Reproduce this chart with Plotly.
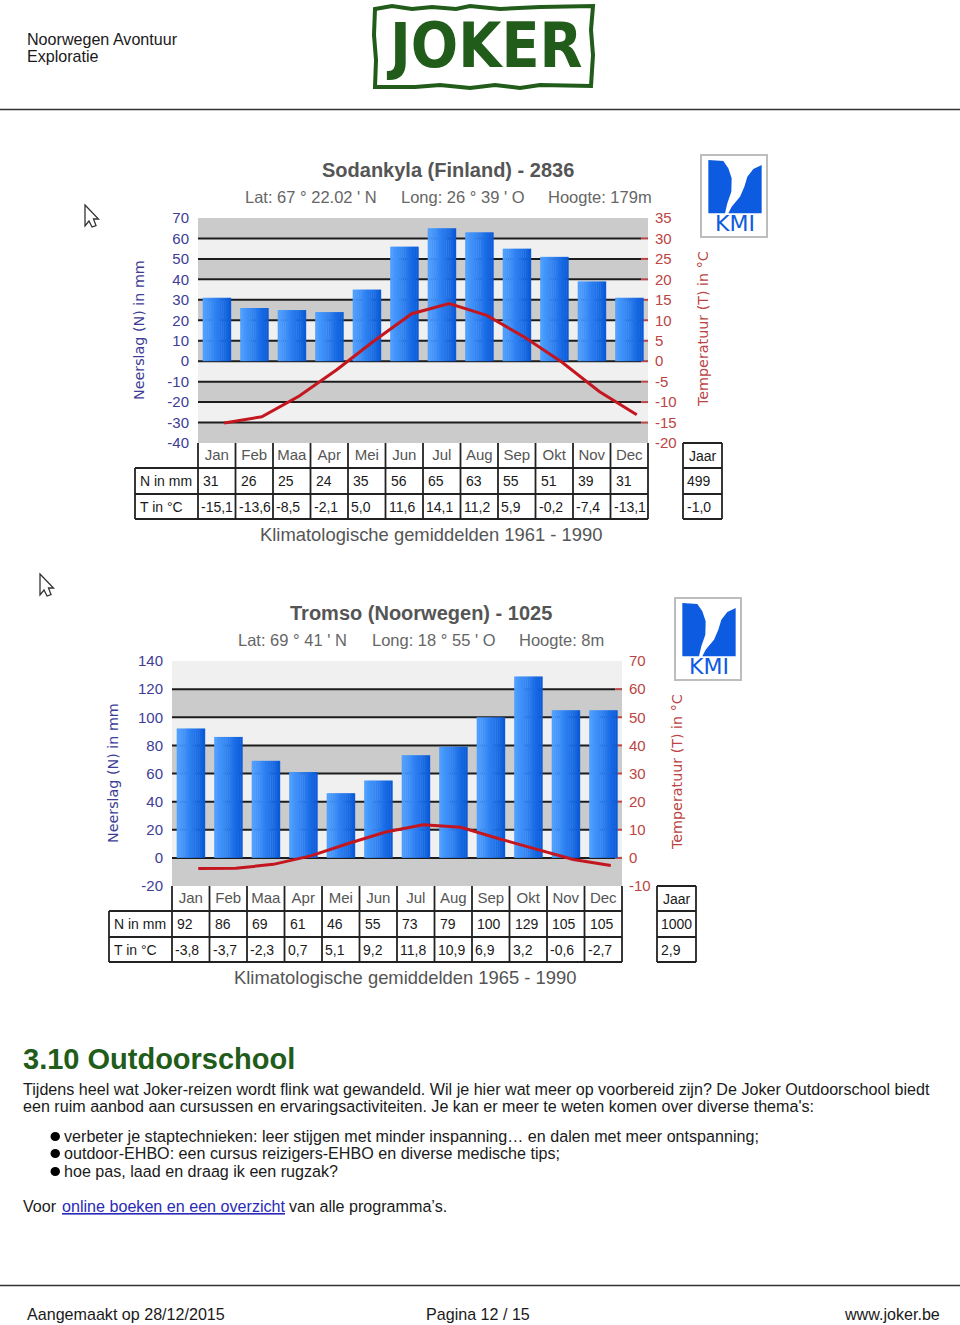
import plotly.graph_objects as go

W, H = 960, 1325

# ---------- data ----------
MONTHS = ["Jan", "Feb", "Maa", "Apr", "Mei", "Jun", "Jul", "Aug", "Sep", "Okt", "Nov", "Dec"]

SOD_N = [31, 26, 25, 24, 35, 56, 65, 63, 55, 51, 39, 31]
SOD_T = [-15.1, -13.6, -8.5, -2.1, 5.0, 11.6, 14.1, 11.2, 5.9, -0.2, -7.4, -13.1]
SOD_N_TXT = ["31", "26", "25", "24", "35", "56", "65", "63", "55", "51", "39", "31"]
SOD_T_TXT = ["-15,1", "-13,6", "-8,5", "-2,1", "5,0", "11,6", "14,1", "11,2", "5,9", "-0,2", "-7,4", "-13,1"]
SOD_JAAR = ["499", "-1,0"]

TRO_N = [92, 86, 69, 61, 46, 55, 73, 79, 100, 129, 105, 105]
TRO_T = [-3.8, -3.7, -2.3, 0.7, 5.1, 9.2, 11.8, 10.9, 6.9, 3.2, -0.6, -2.7]
TRO_N_TXT = ["92", "86", "69", "61", "46", "55", "73", "79", "100", "129", "105", "105"]
TRO_T_TXT = ["-3,8", "-3,7", "-2,3", "0,7", "5,1", "9,2", "11,8", "10,9", "6,9", "3,2", "-0,6", "-2,7"]
TRO_JAAR = ["1000", "2,9"]

SOD_N_TICKS = [70, 60, 50, 40, 30, 20, 10, 0, -10, -20, -30, -40]
SOD_T_TICKS = [35, 30, 25, 20, 15, 10, 5, 0, -5, -10, -15, -20]
TRO_N_TICKS = [140, 120, 100, 80, 60, 40, 20, 0, -20]
TRO_T_TICKS = [70, 60, 50, 40, 30, 20, 10, 0, -10]

BAR_SHADES = ["#4f9fff", "#4a9bfd", "#4596fb", "#4091f9", "#3b8df7", "#3688f5", "#3183f2", "#2c7ef0",
              "#2779ed", "#2274ea", "#1d6fe7", "#186ae4", "#1365e0", "#0e60dc", "#0b5bd8"]
GRAY, LIGHT = "#cbcbcb", "#f0f0f0"
NAVY, RED, LINE_RED = "#3d3d96", "#bb4444", "#c4161f"
GREEN, TXT, GREY = "#215c1a", "#1a1a1a", "#555555"
LOGO_BLUE = "#0d5be0"

shapes, annos = [], []
px = lambda x: x / W
py = lambda y: 1 - y / H


def text(x, y, s, size=16.1, color=TXT, anchor="left", font="Liberation Sans", angle=0, bold=False, under=False):
    f = dict(size=size, color=color, family=font)
    if bold:
        f["weight"] = "bold"
    if under:
        f["lineposition"] = "under"
    if anchor == "left":
        x -= 1
    elif anchor == "right":
        x += 1
    annos.append(dict(x=px(x), y=py(y), xref="paper", yref="paper", text=s, showarrow=False,
                      xanchor=anchor, yanchor="middle", font=f, textangle=angle, borderpad=0))


def hline(x0, x1, y, color="#222222", width=1.8):
    shapes.append(dict(type="line", xref="paper", yref="paper", x0=px(x0), x1=px(x1), y0=py(y), y1=py(y),
                       line=dict(color=color, width=width)))


def vline(x, y0, y1, color="#222222", width=1.8):
    shapes.append(dict(type="line", xref="paper", yref="paper", x0=px(x), x1=px(x), y0=py(y0), y1=py(y1),
                       line=dict(color=color, width=width)))


def poly(pts, fill, line=None, width=0, close=True):
    d = "M" + " L".join(f"{px(a):.5f},{py(b):.5f}" for a, b in pts) + (" Z" if close else "")
    shapes.append(dict(type="path", xref="paper", yref="paper", path=d, fillcolor=fill,
                       line=dict(color=line or "rgba(0,0,0,0)", width=width)))


fig = go.Figure()
layout_axes = {}


def chart(idx, dx, dy, title, sub, period, N, T, NT, TT, jaar, nticks, tticks, first_gray, title_cx, sub_xs):
    xname = "x" if idx == 0 else f"x{idx + 1}"
    y1 = "y" if idx == 0 else f"y{2 * idx + 1}"
    y2 = f"y{2 * idx + 2}"
    xkey = "xaxis" if idx == 0 else f"xaxis{idx + 1}"
    y1key = "yaxis" if idx == 0 else f"yaxis{2 * idx + 1}"
    y2key = f"yaxis{2 * idx + 2}"

    L, R, TOP, BOT = 198 + dx, 648 + dx, 218 + dy, 443 + dy
    dom_x = [px(L), px(R)]
    dom_y = [py(BOT), py(TOP)]
    layout_axes[xkey] = dict(domain=dom_x, range=[-0.5, 11.5], anchor=y1, tickmode="array",
                             tickvals=list(range(12)), ticktext=MONTHS, ticks="", showgrid=False,
                             zeroline=False, ticklabelstandoff=1,
                             tickfont=dict(family="Liberation Sans", size=15, color="#555555"))
    layout_axes[y1key] = dict(domain=dom_y, range=[nticks[-1], nticks[0]], anchor=xname, tickmode="array",
                              tickvals=nticks, ticktext=[str(v) for v in nticks], ticks="", showgrid=False,
                              zeroline=False, ticklabelstandoff=8,
                              tickfont=dict(family="Liberation Sans", size=15, color=NAVY))
    layout_axes[y2key] = dict(domain=dom_y, range=[tticks[-1], tticks[0]], anchor=xname, overlaying=y1, side="right",
                              tickmode="array", tickvals=tticks, ticktext=[str(v) for v in tticks], ticks="",
                              showgrid=False, zeroline=False,
                              ticklabelstandoff=6, tickfont=dict(family="Liberation Sans", size=15, color=RED))

    # alternating bands and grid lines
    n_xref, n_yref = f"{xname} domain", y1
    for i in range(len(nticks) - 1):
        gray = (i % 2 == 0) == first_gray
        shapes.append(dict(type="rect", xref=n_xref, yref=n_yref, x0=0, x1=1, y0=nticks[i], y1=nticks[i + 1],
                           fillcolor=GRAY if gray else LIGHT, line=dict(width=0), layer="below"))
    for v in nticks[1:-1]:
        shapes.append(dict(type="line", xref=n_xref, yref=n_yref, x0=0, x1=0.985, y0=v, y1=v,
                           line=dict(color="#1c1c1c", width=2), layer="below"))
        shapes.append(dict(type="line", xref=n_xref, yref=n_yref, x0=0.985, x1=1, y0=v, y1=v,
                           line=dict(color=RED, width=2), layer="below"))

    # gradient bars built of vertical slices
    nsl = len(BAR_SHADES)
    total = 0.75
    for k, c in enumerate(BAR_SHADES):
        fig.add_trace(go.Bar(x=list(range(12)), y=N, xaxis=xname, yaxis=y1, width=total / nsl + 0.01,
                             offset=-total / 2 + k * total / nsl, marker=dict(color=c, line=dict(width=0)),
                             showlegend=False, hoverinfo="skip"))
    fig.add_trace(go.Scatter(x=[i + 0.2 for i in range(12)], y=T, xaxis=xname, yaxis=y2, mode="lines",
                             line=dict(color=LINE_RED, width=3), showlegend=False))

    # table
    for y in (468, 494, 519):
        hline(135 + dx, R, y + dy)
    vline(135 + dx, 468 + dy, 519 + dy)
    for i in range(13):
        vline(L + 37.5 * i, BOT, 519 + dy)
    for y in (443, 468, 494, 519):
        hline(683 + dx, 722 + dx, y + dy)
    vline(683 + dx, 443 + dy, 519 + dy)
    vline(722 + dx, 443 + dy, 519 + dy)
    text(140 + dx, 481 + dy, "N in mm", 14)
    text(140 + dx, 507 + dy, "T in °C", 14)
    for i in range(12):
        cx = L + 37.5 * i
        text(cx + 5, 481 + dy, NT[i], 14)
        text(cx + 3, 507 + dy, TT[i], 14)
    text(702.5 + dx, 456 + dy, "Jaar", 14, anchor="center")
    text(687 + dx, 481 + dy, jaar[0], 14)
    text(687 + dx, 507 + dy, jaar[1], 14)

    # titles
    text(title_cx, 170 + dy, title, 20, GREY, "center", bold=True)
    for x, s in zip(sub_xs, sub):
        text(x, 197 + dy, s, 16.5, "#666666")
    text(431 + dx, 534 + dy, period, 18.4, GREY, "center")
    text(139 + dx, 330 + dy, "Neerslag (N) in mm", 14.3, NAVY, "center", "DejaVu Sans", -90)
    text(703 + dx, 329 + dy, "Temperatuur (T) in °C", 14.3, RED, "center", "DejaVu Sans", -90)

    # KMI logo
    x0, y0 = 701 + dx, 155 + dy
    shapes.append(dict(type="rect", xref="paper", yref="paper", x0=px(x0), x1=px(x0 + 66), y0=py(y0), y1=py(y0 + 82),
                       fillcolor="white", line=dict(color="#bdbdbd", width=2)))
    def zp(pts):
        return [(690 + dx + a / 3, 145 + dy + b / 3) for a, b in pts]
    poly(zp([(55, 45), (100, 48), (115, 70), (125, 100), (124, 140), (112, 175), (105, 205), (55, 205)]), LOGO_BLUE)
    poly(zp([(215, 60), (190, 72), (172, 95), (163, 125), (150, 155), (125, 185), (115, 205), (215, 205)]), LOGO_BLUE)
    text(735 + dx, 224 + dy, "KMI", 22, LOGO_BLUE, "center", "DejaVu Sans")

    # mouse cursor on the captured page
    cx, cy = (85, 205) if idx == 0 else (40, 574)
    poly([(cx + a, cy + b) for a, b in [(0, 0), (13.5, 14), (8.5, 14), (11, 20.5), (7, 22), (4, 16), (0, 21)]],
         "white", "#333333", 1.3)


chart(0, 0, 0, "Sodankyla (Finland) - 2836", ["Lat: 67 ° 22.02 ' N", "Long: 26 ° 39 ' O", "Hoogte: 179m"],
      "Klimatologische gemiddelden 1961 - 1990", SOD_N, SOD_T, SOD_N_TXT, SOD_T_TXT, SOD_JAAR,
      SOD_N_TICKS, SOD_T_TICKS, True, 448, [245, 401, 548])
chart(1, -26, 443, "Tromso (Noorwegen) - 1025", ["Lat: 69 ° 41 ' N", "Long: 18 ° 55 ' O", "Hoogte: 8m"],
      "Klimatologische gemiddelden 1965 - 1990", TRO_N, TRO_T, TRO_N_TXT, TRO_T_TXT, TRO_JAAR,
      TRO_N_TICKS, TRO_T_TICKS, False, 421, [238, 372, 519])

# ---------- page furniture ----------
hline(0, 960, 109.5, "#333333", 1.5)
hline(0, 960, 1285.5, "#333333", 1.5)
text(27, 39, "Noorwegen Avontuur")
text(27, 56, "Exploratie")
text(27, 1314, "Aangemaakt op 28/12/2015")
text(426, 1314, "Pagina 12 / 15")
text(940, 1314, "www.joker.be", anchor="right")

# Joker logo
poly([(375, 9), (392, 6), (412, 9), (432, 7), (456, 9), (470, 6), (500, 9), (540, 7), (593, 6), (591, 30), (593, 55),
      (591, 86), (540, 85), (520, 88), (495, 85), (470, 88), (440, 85), (415, 87), (375, 87), (376, 60), (374, 35)],
     "rgba(0,0,0,0)", GREEN, 4)
text(484, 46, "JOKER", 62, GREEN, "center", "DejaVu Sans Condensed, Liberation Sans", bold=True)

# body text
text(23, 1059, "3.10 Outdoorschool", 29, GREEN, bold=True)
text(23, 1089, "Tijdens heel wat Joker-reizen wordt flink wat gewandeld. Wil je hier wat meer op voorbereid zijn? De Joker Outdoorschool biedt", 16.13)
text(23, 1106, "een ruim aanbod aan cursussen en ervaringsactiviteiten. Je kan er meer te weten komen over diverse thema's:", 16.13)
for y, s in [(1136, "verbeter je staptechnieken: leer stijgen met minder inspanning… en dalen met meer ontspanning;"),
             (1153, "outdoor-EHBO: een cursus reizigers-EHBO en diverse medische tips;"),
             (1171, "hoe pas, laad en draag ik een rugzak?")]:
    shapes.append(dict(type="circle", xref="paper", yref="paper", x0=px(50.5), x1=px(60), y0=py(y - 4), y1=py(y + 5),
                       fillcolor="black", line=dict(width=0)))
    text(64, y, s, 16.13)
text(23, 1206, "Voor", 16.13)
text(62, 1206, "online boeken en een overzicht", 16.13, "#2a2ab8", under=True)
text(289, 1206, "van alle programma’s.", 16.13)

fig.update_layout(width=W, height=H, margin=dict(l=0, r=0, t=0, b=0, pad=0, autoexpand=False), paper_bgcolor="white",
                  plot_bgcolor="rgba(0,0,0,0)", barmode="overlay", showlegend=False, shapes=shapes, annotations=annos,
                  **layout_axes)
fig.write_html("out.html", config={"displayModeBar": False}, post_script="document.body.style.margin='0';")
